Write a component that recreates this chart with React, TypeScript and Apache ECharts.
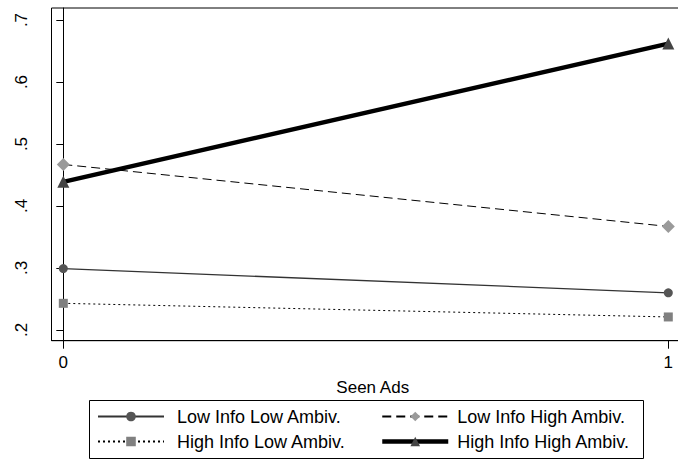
import React, { useEffect, useRef } from "react";
import * as echarts from "echarts";

const xValues = [0, 1];
const seriesNames = [
  "Low Info Low Ambiv.",
  "Low Info High Ambiv.",
  "High Info Low Ambiv.",
  "High Info High Ambiv.",
];
const lowInfoLowAmbiv = [0.299, 0.26];
const lowInfoHighAmbiv = [0.467, 0.367];
const highInfoLowAmbiv = [0.243, 0.221];
const highInfoHighAmbiv = [0.439, 0.662];
const yTicks = [0.2, 0.3, 0.4, 0.5, 0.6, 0.7];
const xTicks = [0, 1];
const xTitle = "Seen Ads";

const FONT = "'Liberation Sans', Arial, Helvetica, sans-serif";

function pairs(vals: number[]) {
  return xValues.map((x, i) => [x, vals[i]]);
}

export default function App() {
  const ref = useRef<HTMLDivElement>(null);
  useEffect(() => {
    if (!ref.current) return;
    const chart = echarts.init(ref.current, undefined, { renderer: "svg" });
    const mk = (
      name: string,
      vals: number[],
      symbol: string,
      symbolSize: number,
      markerColor: string,
      lineColor: string,
      width: number,
      type: any
    ) => ({
      name,
      type: "line",
      data: pairs(vals),
      symbol,
      symbolSize,
      itemStyle: { color: markerColor, borderWidth: 0 },
      lineStyle: { color: lineColor, width, type },
      emphasis: { disabled: true },
    });
    const legendText = { fontSize: 18, color: "#000", fontFamily: FONT };
    chart.setOption({
      animation: false,
      backgroundColor: "#ffffff",
      textStyle: { fontFamily: FONT },
      grid: {
        left: 51.5,
        right: 710 - 694,
        top: 8,
        height: 332.7,
        show: true,
        borderColor: "#000",
        borderWidth: 1,
        backgroundColor: "transparent",
      },
      xAxis: {
        type: "value",
        min: -0.0195,
        max: 1 + (694 - 668.3) / 605,
        name: xTitle,
        nameLocation: "middle",
        nameGap: 38,
        nameTextStyle: { fontSize: 17, color: "#000", fontFamily: FONT },
        axisLine: { show: true, lineStyle: { color: "#000", width: 1 } },
        axisTick: { show: true, length: 8, lineStyle: { color: "#000" }, customValues: xTicks },
        axisLabel: {
          fontSize: 17,
          color: "#000",
          margin: 13,
          fontFamily: FONT,
          customValues: xTicks,
          formatter: (v: number) => String(v),
        },
        splitLine: { show: false },
      },
      yAxis: {
        type: "value",
        min: 0.1827,
        max: 0.7194,
        axisLine: { show: true, lineStyle: { color: "#000", width: 1 } },
        axisTick: { show: true, length: 7, lineStyle: { color: "#000" }, customValues: yTicks },
        axisLabel: {
          fontSize: 17,
          color: "#000",
          rotate: 90,
          margin: 22,
          fontFamily: FONT,
          customValues: yTicks,
          formatter: (v: number) => v.toFixed(1).replace(/^0/, ""),
        },
        splitLine: { show: false },
      },
      legend: [
        {
          data: [
            { name: seriesNames[0] },
            { name: seriesNames[2] },
          ],
          orient: "vertical",
          left: 92,
          top: 402.5,
          itemWidth: 66,
          itemHeight: 12,
          itemGap: 7,
          textStyle: { ...legendText, padding: [0, 0, 0, 8] },
          selectedMode: false,
        },
        {
          data: [
            { name: seriesNames[1] },
            { name: seriesNames[3], lineStyle: { width: 4.5 } },
          ],
          orient: "vertical",
          left: 375,
          top: 402.5,
          itemWidth: 66,
          itemHeight: 12,
          itemGap: 7,
          textStyle: { ...legendText, padding: [0, 0, 0, 4] },
          selectedMode: false,
        },
      ],
      graphic: [
        {
          type: "rect",
          shape: { x: 89.5, y: 400.5, width: 554, height: 58 },
          style: { fill: "none", stroke: "#000", lineWidth: 1 },
        },
      ],
      series: [
        mk(seriesNames[0], lowInfoLowAmbiv, "circle", 9, "#555555", "#333333", 1.3, "solid"),
        mk(seriesNames[1], lowInfoHighAmbiv, "diamond", 13, "#9a9a9a", "#000000", 1, [9, 5]),
        mk(seriesNames[2], highInfoLowAmbiv, "rect", 9, "#808080", "#000000", 1, [2, 3]),
        mk(seriesNames[3], highInfoHighAmbiv, "triangle", 12, "#444444", "#000000", 4.5, "solid"),
      ],
    });
    return () => chart.dispose();
  }, []);
  return (
    <div style={{ position: "fixed", left: 0, top: 0, width: 678, height: 462, overflow: "hidden", background: "#fff" }}>
      <div ref={ref} style={{ width: 710, height: 462 }} />
    </div>
  );
}
